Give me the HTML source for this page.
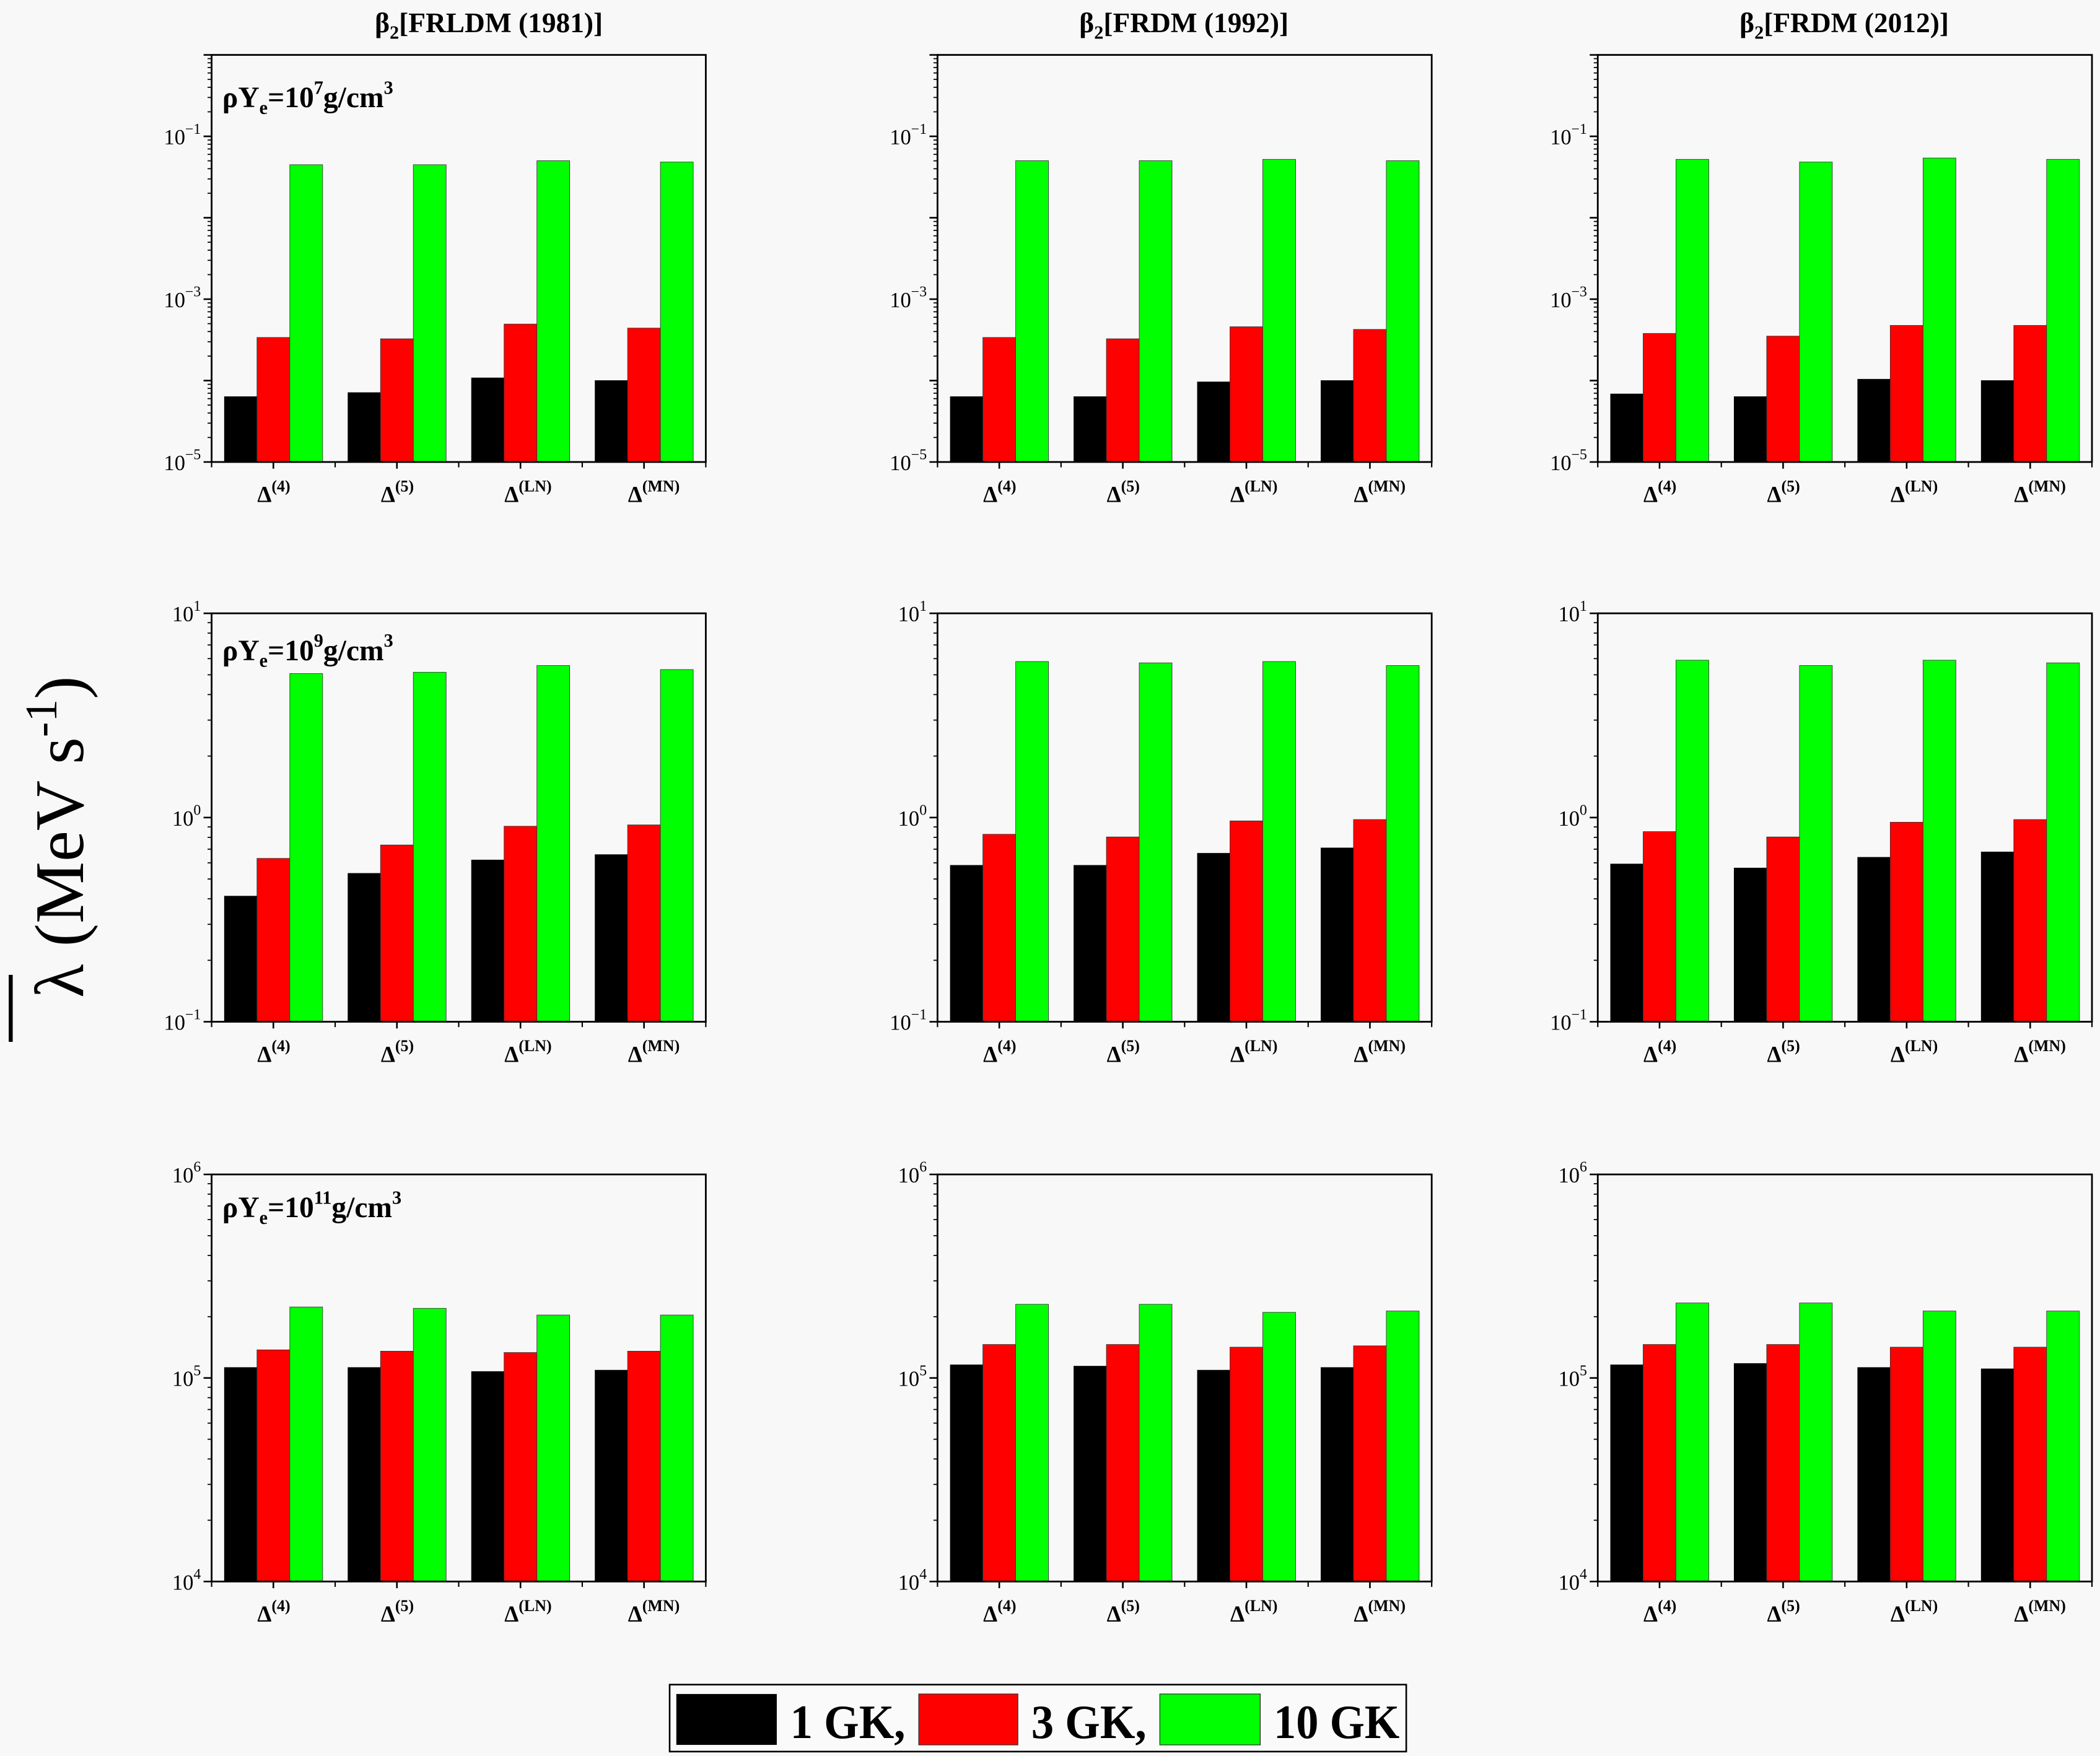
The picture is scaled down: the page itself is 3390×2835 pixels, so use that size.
<!DOCTYPE html>
<html><head><meta charset="utf-8"><style>
html,body{margin:0;padding:0;background:#f8f8f8;}
svg{display:block;}
text{font-family:"Liberation Serif",serif;fill:#000;}
</style></head><body>
<svg id="s" width="3390" height="2835" viewBox="0 0 1568 1311.3" preserveAspectRatio="none" xmlns="http://www.w3.org/2000/svg">
<rect x="0" y="0" width="1568" height="1311.3" fill="#f8f8f8"/>
<g id="g"></g>
<text x="365" y="24" font-size="21" font-weight="bold" text-anchor="middle">β<tspan font-size="14" dy="5">2</tspan><tspan dy="-5">[FRLDM (1981)]</tspan></text>
<text x="884" y="24" font-size="21" font-weight="bold" text-anchor="middle">β<tspan font-size="14" dy="5">2</tspan><tspan dy="-5">[FRDM (1992)]</tspan></text>
<text x="1377" y="24" font-size="21" font-weight="bold" text-anchor="middle">β<tspan font-size="14" dy="5">2</tspan><tspan dy="-5">[FRDM (2012)]</tspan></text>
<text x="166" y="80" font-size="22" font-weight="bold">ρY<tspan font-size="14" dy="5">e</tspan><tspan dy="-5">=10</tspan><tspan font-size="14" dy="-10">7</tspan><tspan dy="10">g/cm</tspan><tspan font-size="14" dy="-10">3</tspan></text>
<text x="166" y="493" font-size="22" font-weight="bold">ρY<tspan font-size="14" dy="5">e</tspan><tspan dy="-5">=10</tspan><tspan font-size="14" dy="-10">9</tspan><tspan dy="10">g/cm</tspan><tspan font-size="14" dy="-10">3</tspan></text>
<text x="166" y="909" font-size="22" font-weight="bold">ρY<tspan font-size="14" dy="5">e</tspan><tspan dy="-5">=10</tspan><tspan font-size="14" dy="-10">11</tspan><tspan dy="10">g/cm</tspan><tspan font-size="14" dy="-10">3</tspan></text>
<g transform="translate(62,625) rotate(-90)">
<text x="0" y="0" font-size="52" text-anchor="middle">λ (MeV s<tspan font-size="34" dy="-20">-1</tspan><tspan dy="20">)</tspan></text>
</g>
<line x1="8" y1="778" x2="8" y2="728" stroke="#000" stroke-width="3"/>
<rect x="500" y="1258" width="550" height="50" fill="#fafafa" stroke="#000" stroke-width="1.2"/>
<rect x="505" y="1265" width="75" height="38" fill="#000"/>
<rect x="686" y="1265" width="74" height="38" fill="#f00" stroke="#333" stroke-width="0.6"/>
<rect x="866" y="1265" width="75" height="38" fill="#0f0" stroke="#333" stroke-width="0.6"/>
<text x="590" y="1298" font-size="36" font-weight="bold" textLength="86" lengthAdjust="spacingAndGlyphs">1 GK,</text>
<text x="770" y="1298" font-size="36" font-weight="bold" textLength="86" lengthAdjust="spacingAndGlyphs">3 GK,</text>
<text x="951" y="1298" font-size="36" font-weight="bold" textLength="94" lengthAdjust="spacingAndGlyphs">10 GK</text>
</svg>
<script>
var NS="http://www.w3.org/2000/svg",G=document.getElementById("g");
function el(t,a,txt){var e=document.createElementNS(NS,t);for(var k in a)e.setAttribute(k,a[k]);if(txt!=null)e.textContent=txt;G.appendChild(e);return e;}
var cols=[158,700,1193],W=369;
var rows=[{t:41,b:345,lo:-5,hi:0,lab:[-5,-3,-1]},{t:458,b:763,lo:-1,hi:1,lab:[-1,0,1]},{t:877,b:1181,lo:4,hi:6,lab:[4,5,6]}];
var data=[
[[[296,293,282,284],[252,253,242,245],[123,123,120,121]],[[296,296,285,284],[252,253,244,246],[120,120,119,120]],[[294,296,283,284],[249,251,243,243],[119,121,118,119]]],
[[[669,652,642,638],[641,631,617,616],[503,502,497,500]],[[646,646,637,633],[623,625,613,612],[494,495,494,497]],[[645,648,640,636],[621,625,614,612],[493,497,493,495]]],
[[[1021,1021,1024,1023],[1008,1009,1010,1009],[976,977,982,982]],[[1019,1020,1023,1021],[1004,1004,1006,1005],[974,974,980,979]],[[1019,1018,1021,1022],[1004,1004,1006,1006],[973,973,979,979]]]];
var colors=["#000","#f00","#0f0"],labs=["4","5","LN","MN"];
rows.forEach(function(r,ri){cols.forEach(function(x0,ci){
 var gw=W/4,bw=24.5;
 for(var g=0;g<4;g++){var cx=x0+gw*(g+0.5);
  for(var s=0;s<3;s++){var y=data[ri][ci][s][g];var bx=cx-bw*1.5+s*bw;
   el("rect",{x:bx,y:y,width:bw,height:r.b-y,fill:colors[s],stroke:s?"#333":"none","stroke-width":0.4});}
  el("line",{x1:cx,y1:r.b,x2:cx,y2:r.b+5,stroke:"#000","stroke-width":1.2});
  var t=el("text",{x:cx-12,y:r.b+30,"font-size":17,"font-weight":"bold"},"Δ");
  var sp=document.createElementNS(NS,"tspan");sp.setAttribute("font-size","12");sp.setAttribute("dy","-8");sp.textContent="("+labs[g]+")";t.appendChild(sp);
 }
 for(var g=0;g<=4;g++){var xx=x0+gw*g;el("line",{x1:xx,y1:r.b,x2:xx,y2:r.b+4,stroke:"#000","stroke-width":1});}
 el("rect",{x:x0,y:r.t,width:W,height:r.b-r.t,fill:"none",stroke:"#000","stroke-width":1.3});
 var dec=(r.b-r.t)/(r.hi-r.lo);
 for(var e=r.lo;e<=r.hi;e++){var y=r.b-(e-r.lo)*dec;
  el("line",{x1:x0-6,y1:y,x2:x0,y2:y,stroke:"#000","stroke-width":1.2});
  if(e<r.hi)for(var m=2;m<10;m++){var ym=y-Math.log10(m)*dec;el("line",{x1:x0-3,y1:ym,x2:x0,y2:ym,stroke:"#000","stroke-width":0.8});}
 }
 r.lab.forEach(function(e){var y=r.b-(e-r.lo)*dec;
  var t=el("text",{x:x0-8,y:y+6,"font-size":16,"text-anchor":"end"},"10");
  var sp=document.createElementNS(NS,"tspan");sp.setAttribute("font-size","11");sp.setAttribute("dy","-8");sp.textContent=(e<0?"−"+(-e):""+e);t.appendChild(sp);
 });
});});
</script>
</body></html>
